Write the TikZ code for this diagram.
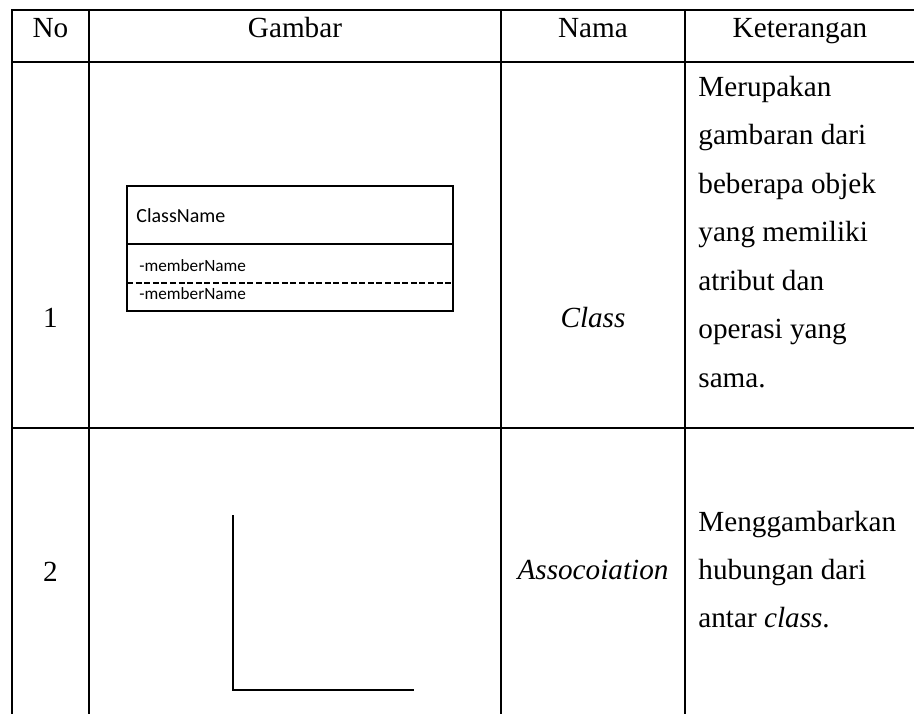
\documentclass[tikz,border=0pt]{standalone}
\usepackage{fontspec}
\setmainfont{Liberation Serif}
\newfontfamily\calibri{Carlito}
\usetikzlibrary{positioning}

\begin{document}
\begin{tikzpicture}[x=0.5pt, y=-0.5pt,
	line/.style={line width=1pt},
	txt/.style={font=\fontsize{14.6}{17.5}\selectfont, inner sep=0pt},
	cls/.style={font=\calibri\fontsize{10}{12}\selectfont, inner sep=0pt, anchor=base west},
	mbr/.style={font=\calibri\fontsize{8.6}{10}\selectfont, inner sep=0pt, anchor=base west}]
	\useasboundingbox (0,0) rectangle (914,714);
	% table lines
	\draw[line] (914,10) -- (12,10) -- (12,714);
	\draw[line] (12,62) -- (914,62);
	\draw[line] (12,428) -- (914,428);
	\foreach \x in {89,501,685}
		\draw[line] (\x,10) -- (\x,714);
	% header
	\node[txt, anchor=base] (hno) at (50.5,37) {No};
	\node[txt, anchor=base] (hgb) at (295,37) {Gambar};
	\node[txt, anchor=base] (hnm) at (593,37) {Nama};
	\node[txt, anchor=base] (hkt) at (800,37) {Keterangan};
	% row 1: class
	\node[txt, anchor=base] (no1) at (50.5,327) {1};
	\draw[line] (127,186) rectangle (453,311);
	\draw[line] (127,244) -- (453,244);
	\draw[line, dash pattern=on 3pt off 1.3pt] (127,283) -- (453,283);
	\node[cls] (cname) at (136,222) {ClassName};
	\node[mbr] (mem1) at (139,271) {-memberName};
	\node[mbr] (mem2) at (139,299) {-memberName};
	\node[txt, anchor=base] (nm1) at (593,327) {\textit{Class}};
	\foreach \t [count=\i from 0] in {Merupakan, gambaran dari, beberapa objek,
			yang memiliki, atribut dan, operasi yang, sama.}
		\node[txt, anchor=base west] (k1-\i) at (698,96+48.5*\i) {\t};
	% row 2: association
	\node[txt, anchor=base] (no2) at (50.5,581) {2};
	\coordinate (as1) at (233,515);
	\coordinate (as2) at (233,690);
	\coordinate (as3) at (414,690);
	\draw[line] (as1) -- (as2) -- (as3);
	\node[txt, anchor=base] (nm2) at (593,579) {\textit{Assocoiation}};
	\foreach \t [count=\i from 0] in {Menggambarkan, hubungan dari, {antar \textit{class}.}}
		\node[txt, anchor=base west] (k2-\i) at (698,531+48*\i) {\t};
\end{tikzpicture}
\end{document}
